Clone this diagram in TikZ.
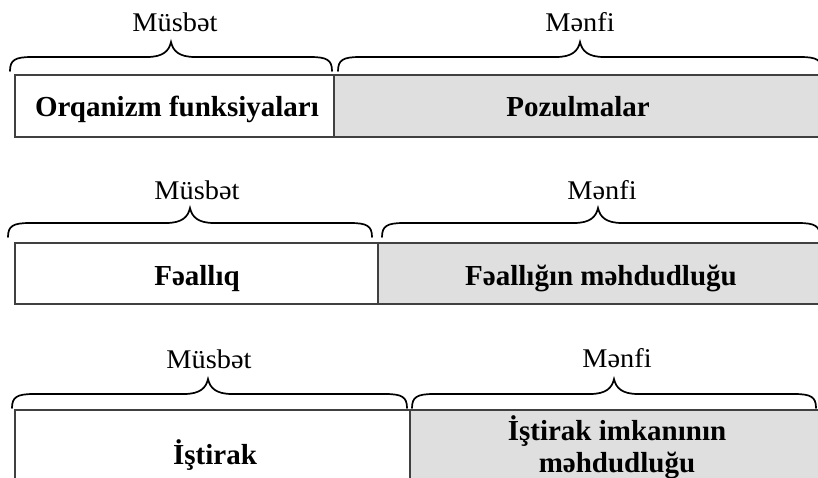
\documentclass[tikz,border=0pt]{standalone}
\usepackage{fontspec}
\setmainfont{Liberation Serif}
\newfontfamily\lblfont{Liberation Serif}[FakeStretch=1.05]
\definecolor{negfill}{HTML}{DFDFDF}
\definecolor{boxline}{HTML}{404040}
\newcommand\curlybr[4]{% left, right, centre, flat y
  \draw[brc] (#1,#4+14) .. controls (#1,#4+3) and (#1+5,#4) .. (#1+22,#4)
    -- (#3-24,#4) .. controls (#3-8,#4) and (#3-2,#4-6) .. (#3,#4-15)
    .. controls (#3+2,#4-6) and (#3+8,#4) .. (#3+24,#4)
    -- (#2-22,#4) .. controls (#2-5,#4) and (#2,#4+3) .. (#2,#4+14);}
\begin{document}
\begin{tikzpicture}[x=1pt,y=-1pt,
  lbl/.style={anchor=base, inner sep=0pt, font=\lblfont\fontsize{27}{30}\selectfont},
  cell/.style={anchor=base, inner sep=0pt, align=center, font=\fontsize{29}{32}\selectfont\bfseries},
  brc/.style={draw=black, line width=1.7pt, line cap=round},
  posbox/.style={fill=white, draw=boxline, line width=1.6pt},
  negbox/.style={fill=negfill, draw=boxline, line width=1.6pt}]
\useasboundingbox (0,0) rectangle (818,478);
\clip (0,0) rectangle (818,478);
% row 1
\draw[posbox] (15,75) rectangle (334,137);
\draw[negbox] (334,75) rectangle (840,137);
\curlybr{10}{332}{171}{57}
\curlybr{338}{822}{580}{57}
\node[lbl] (m1) at (175,32) {Müsbət};
\node[lbl] (n1) at (580,32) {Mənfi};
\node[cell] (p1) at (177,117) {Orqanizm funksiyaları};
\node[cell] (q1) at (578,117) {Pozulmalar};
% row 2
\draw[posbox] (15,243) rectangle (378,304);
\draw[negbox] (378,243) rectangle (840,304);
\curlybr{8}{372}{190}{223}
\curlybr{382}{820}{598}{223}
\node[lbl] (m2) at (197,200) {Müsbət};
\node[lbl] (n2) at (602,200) {Mənfi};
\node[cell] (p2) at (197,285) {Fəallıq};
\node[cell] (q2) at (601,285) {Fəallığın məhdudluğu};
% row 3
\draw[posbox] (15,410) rectangle (410,500);
\draw[negbox] (410,410) rectangle (840,500);
\curlybr{12}{407}{208}{394}
\curlybr{412}{816}{614}{394}
\node[lbl] (m3) at (209,368) {Müsbət};
\node[lbl] (n3) at (617,367) {Mənfi};
\node[cell] (p3) at (215,464) {İştirak};
\node[cell] (q3) at (617,472) {İştirak imkanının\\məhdudluğu};
\end{tikzpicture}
\end{document}
